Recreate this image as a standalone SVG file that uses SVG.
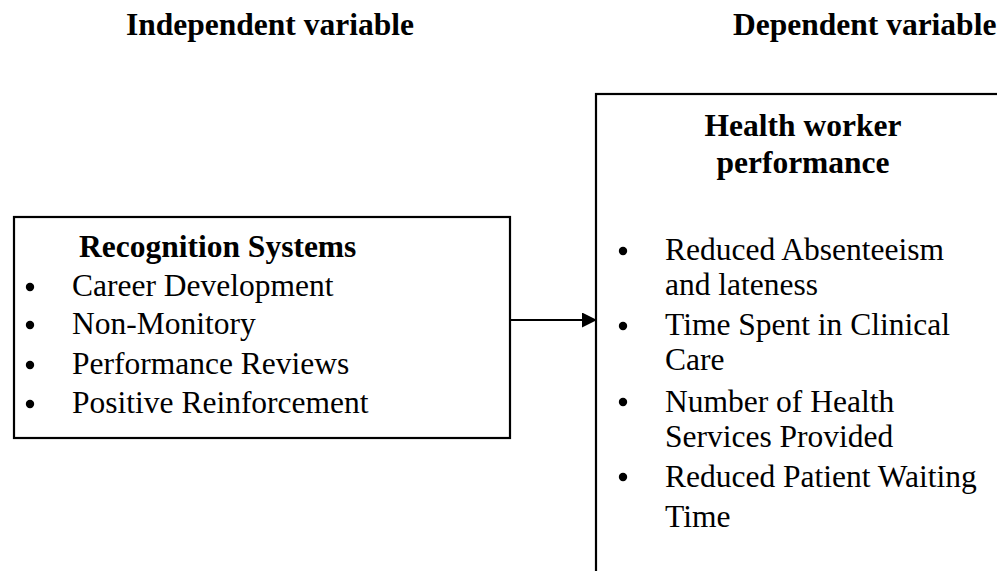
<svg xmlns="http://www.w3.org/2000/svg" width="997" height="571" viewBox="0 0 997 571">
  <style>
    text { font-family: "Liberation Serif", "Times New Roman", serif; font-size: 31.5px; fill: #000; }
    .bold { font-weight: bold; }
    .box { fill: #fff; stroke: #000; stroke-width: 2.2; }
    .dot { fill: #000; }
    .link { stroke: #000; stroke-width: 2.2; fill: none; }
  </style>
  <defs>
    <marker id="arrowhead" markerUnits="userSpaceOnUse" markerWidth="16" markerHeight="16" refX="15" refY="7.5" orient="auto">
      <path d="M0,0 L15,7.5 L0,15 Z" fill="#000"/>
    </marker>
  </defs>
  <rect width="997" height="571" fill="#fff"/>

  <!-- column headings -->
  <g id="headings">
    <text class="bold" x="126" y="35">Independent variable</text>
    <text class="bold" x="733" y="35">Dependent variable</text>
  </g>

  <!-- independent variable box -->
  <g id="recognition-systems">
    <rect class="box" x="14" y="217" width="496" height="221"/>
    <text class="bold" x="79" y="257">Recognition Systems</text>
    <circle class="dot" cx="30" cy="287" r="4.2"/>
    <text x="72" y="296">Career Development</text>
    <circle class="dot" cx="30" cy="325" r="4.2"/>
    <text x="72" y="334">Non-Monitory</text>
    <circle class="dot" cx="30" cy="365" r="4.2"/>
    <text x="72" y="374">Performance Reviews</text>
    <circle class="dot" cx="30" cy="404" r="4.2"/>
    <text x="72" y="413">Positive Reinforcement</text>
  </g>

  <!-- dependent variable box (continues past the page edge) -->
  <g id="health-worker-performance">
    <rect class="box" x="596" y="94" width="500" height="600"/>
    <text class="bold" x="803" y="136" text-anchor="middle">Health worker</text>
    <text class="bold" x="803" y="173" text-anchor="middle">performance</text>
    <circle class="dot" cx="623" cy="251" r="4.2"/>
    <text x="665" y="260">Reduced Absenteeism</text>
    <text x="665" y="295">and lateness</text>
    <circle class="dot" cx="623" cy="326" r="4.2"/>
    <text x="665" y="335">Time Spent in Clinical</text>
    <text x="665" y="370">Care</text>
    <circle class="dot" cx="623" cy="402" r="4.2"/>
    <text x="665" y="412">Number of Health</text>
    <text x="665" y="447">Services Provided</text>
    <circle class="dot" cx="623" cy="477" r="4.2"/>
    <text x="665" y="487">Reduced Patient Waiting</text>
    <text x="665" y="527">Time</text>
  </g>

  <!-- connectors -->
  <g id="connectors">
    <line class="link" x1="510" y1="320" x2="597" y2="320" marker-end="url(#arrowhead)"/>
  </g>
</svg>
